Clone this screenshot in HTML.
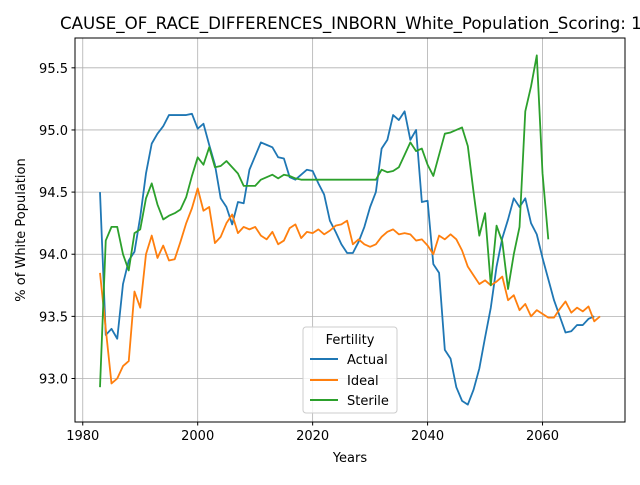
<!DOCTYPE html>
<html><head><meta charset="utf-8"><style>
body{margin:0;background:#fff;font-family:"Liberation Sans","DejaVu Sans",sans-serif;}
svg text{font-family:"DejaVu Sans","Liberation Sans",sans-serif;}
</style></head><body>
<svg id="chart" width="640" height="480" viewBox="0 0 640 480" xmlns="http://www.w3.org/2000/svg">
<rect width="640" height="480" fill="#fff"/>
<text x="60" y="29" font-size="16.67" fill="#000">CAUSE_OF_RACE_DIFFERENCES_INBORN_White_Population_Scoring: 1</text>
<g id="grid"></g><g id="lines"></g><g id="ticks"></g>
<rect x="75" y="38" width="550" height="384" fill="none" stroke="#000" stroke-width="1"/>
<text x="350" y="462" font-size="13" text-anchor="middle">Years</text>
<text transform="translate(25,230) rotate(-90)" font-size="13" text-anchor="middle">% of White Population</text>
<g>
<rect x="303" y="327" width="94" height="86" rx="3" fill="#fff" fill-opacity="0.8" stroke="#ccc"/>
<text x="350" y="344" font-size="13" text-anchor="middle">Fertility</text>
<line x1="310" y1="359" x2="338" y2="359" stroke="#1f77b4" stroke-width="2"/>
<text x="347" y="364" font-size="13">Actual</text>
<line x1="310" y1="380" x2="338" y2="380" stroke="#ff7f0e" stroke-width="2"/>
<text x="347" y="385" font-size="13">Ideal</text>
<line x1="310" y1="400" x2="338" y2="400" stroke="#2ca02c" stroke-width="2"/>
<text x="347" y="405" font-size="13">Sterile</text>
</g>
</svg>
<script>
const startYear = 1983;
const actual = [94.5,93.35,93.4,93.32,93.76,93.95,94.02,94.3,94.65,94.89,94.97,95.03,95.12,95.12,95.12,95.12,95.13,95.01,95.05,94.88,94.72,94.45,94.38,94.24,94.42,94.41,94.68,94.79,94.9,94.88,94.86,94.78,94.77,94.62,94.6,94.64,94.68,94.67,94.57,94.48,94.27,94.18,94.08,94.01,94.01,94.1,94.22,94.38,94.5,94.85,94.92,95.12,95.08,95.15,94.92,95.0,94.42,94.43,93.92,93.85,93.23,93.16,92.93,92.82,92.79,92.91,93.08,93.33,93.57,93.9,94.13,94.28,94.45,94.38,94.45,94.25,94.16,93.97,93.8,93.63,93.5,93.37,93.38,93.43,93.43,93.48,93.5];
const ideal = [93.85,93.4,92.96,93.0,93.1,93.14,93.7,93.57,94.0,94.15,93.97,94.07,93.95,93.96,94.1,94.25,94.37,94.53,94.35,94.38,94.09,94.14,94.25,94.32,94.17,94.22,94.2,94.22,94.15,94.12,94.18,94.08,94.11,94.21,94.24,94.13,94.18,94.17,94.2,94.16,94.19,94.23,94.24,94.27,94.08,94.12,94.08,94.06,94.08,94.14,94.18,94.2,94.16,94.17,94.16,94.11,94.12,94.07,94.0,94.15,94.12,94.16,94.12,94.03,93.9,93.83,93.76,93.79,93.75,93.78,93.82,93.63,93.67,93.55,93.6,93.5,93.55,93.52,93.49,93.49,93.56,93.62,93.53,93.57,93.54,93.58,93.46,93.5];
const sterile = [92.93,94.11,94.22,94.22,94.0,93.87,94.17,94.2,94.45,94.57,94.4,94.28,94.31,94.33,94.36,94.46,94.63,94.78,94.72,94.86,94.7,94.71,94.75,94.7,94.65,94.55,94.55,94.55,94.6,94.62,94.64,94.61,94.64,94.63,94.61,94.6,94.6,94.6,94.6,94.6,94.6,94.6,94.6,94.6,94.6,94.6,94.6,94.6,94.6,94.68,94.66,94.67,94.7,94.8,94.9,94.83,94.85,94.72,94.63,94.8,94.97,94.98,95.0,95.02,94.87,94.5,94.15,94.33,93.75,94.23,94.1,93.72,94.0,94.22,95.15,95.35,95.6,94.65,94.12];
const xTicks = [1980,2000,2020,2040,2060];
const yTicks = [93.0,93.5,94.0,94.5,95.0,95.5];
const yTickLabels = ["93.0","93.5","94.0","94.5","95.0","95.5"];

const L=75,R=625,T=38,B=422;
const xMin=1978.65,xMax=2074.35,yMin=92.65,yMax=95.74;
const xs=v=>L+(v-xMin)/(xMax-xMin)*(R-L);
const ys=v=>B-(v-yMin)/(yMax-yMin)*(B-T);
const NS="http://www.w3.org/2000/svg";
const grid=document.getElementById('grid'),ticks=document.getElementById('ticks'),lines=document.getElementById('lines');
function mk(tag,attrs,parent){const e=document.createElementNS(NS,tag);for(const k in attrs)e.setAttribute(k,attrs[k]);parent.appendChild(e);return e;}
xTicks.forEach(t=>{
  const x=xs(t);
  const g=mk('line',{x1:x,x2:x,y1:T,y2:B,stroke:'#b0b0b0','stroke-width':0.8},grid);
  
  
  mk('line',{x1:x,x2:x,y1:B,y2:B+3.5,stroke:'#000'},ticks);
  const tx=mk('text',{x:x,y:B+18,'font-size':13,'text-anchor':'middle'},ticks);
  tx.textContent=t;
  
  
});
yTicks.forEach((t,i)=>{
  const y=ys(t);
  const g=mk('line',{x1:L,x2:R,y1:y,y2:y,stroke:'#b0b0b0','stroke-width':0.8},grid);
  
  
  mk('line',{x1:L-3.5,x2:L,y1:y,y2:y,stroke:'#000'},ticks);
  const tx=mk('text',{x:L-7,y:y+5,'font-size':13,'text-anchor':'end'},ticks);
  tx.textContent=yTickLabels[i];
  
  
});
[[actual,'#1f77b4','actual-line'],[ideal,'#ff7f0e','ideal-line'],[sterile,'#2ca02c','sterile-line']].forEach(([arr,c,n])=>{
  const pts=arr.map((v,i)=>xs(startYear+i).toFixed(2)+','+ys(v).toFixed(2)).join(' ');
  const p=mk('polyline',{points:pts,fill:'none',stroke:c,'stroke-width':1.8,'stroke-linejoin':'round'},lines);
  
  
});
</script>
</body></html>
